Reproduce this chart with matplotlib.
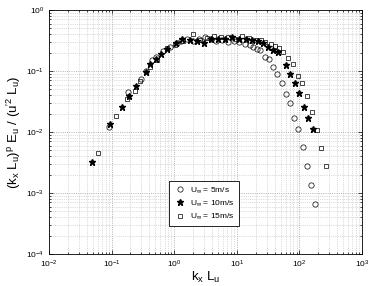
import matplotlib
matplotlib.use('Agg')
import matplotlib.pyplot as plt
import numpy as np

plt.rcParams['font.family'] = ['Liberation Sans', 'DejaVu Sans']
plt.rcParams['mathtext.fontset'] = 'custom'
plt.rcParams['mathtext.rm'] = 'Liberation Sans'
plt.rcParams['mathtext.it'] = 'Liberation Sans'

# U = 5 m/s
k5 = [0.092, 0.185, 0.295, 0.355, 0.438, 0.52, 0.66, 0.85, 1.11, 1.3, 1.6, 2.0, 2.5, 3.1, 3.8,
      4.7, 5.8, 7.2, 8.9, 11.0, 13.6, 16.3, 18.4, 20.8, 23.5, 28.2, 32.7, 38.3, 44.4, 52.1,
      61.1, 70.8, 83.0, 96.0, 112.0, 131.0, 153.0, 180.0]
e5 = [0.0119, 0.0448, 0.073, 0.10, 0.151, 0.17, 0.213, 0.247, 0.288, 0.31, 0.33, 0.31, 0.34,
      0.36, 0.33, 0.31, 0.32, 0.30, 0.31, 0.30, 0.28, 0.27, 0.25, 0.23, 0.221, 0.172, 0.156,
      0.118, 0.088, 0.063, 0.042, 0.0295, 0.0168, 0.0111, 0.0056, 0.00275, 0.00134, 0.00066]

# U = 10 m/s
k10 = [0.048, 0.094, 0.145, 0.192, 0.243, 0.351, 0.41, 0.506, 0.608, 0.767, 1.07, 1.33, 1.79,
       2.31, 2.99, 3.87, 5.0, 6.48, 8.38, 10.8, 14.0, 17.5, 21.8, 26.5, 31.9, 37.4, 45.0,
       61.1, 70.8, 85.1, 98.6, 118.0, 139.0, 167.0]
e10 = [0.0032, 0.0134, 0.0254, 0.039, 0.056, 0.096, 0.129, 0.157, 0.192, 0.23, 0.285, 0.33,
       0.32, 0.31, 0.29, 0.33, 0.34, 0.33, 0.36, 0.34, 0.33, 0.32, 0.31, 0.285, 0.25, 0.221,
       0.203, 0.125, 0.088, 0.064, 0.043, 0.026, 0.0168, 0.0112]

# U = 15 m/s
k15 = [0.0596, 0.117, 0.178, 0.234, 0.284, 0.41, 0.53, 0.776, 1.02, 1.38, 2.02, 2.58, 3.34,
       4.32, 5.6, 7.23, 9.36, 12.1, 15.7, 20.3, 24.4, 28.2, 34.8, 40.8, 47.2, 55.3, 66.5,
       78.2, 94.0, 111.0, 131.0, 157.0, 189.0, 221.0, 266.0]
e15 = [0.00456, 0.0183, 0.0344, 0.0475, 0.069, 0.116, 0.15, 0.236, 0.267, 0.31, 0.40, 0.32,
       0.35, 0.37, 0.36, 0.36, 0.335, 0.37, 0.35, 0.32, 0.32, 0.302, 0.277, 0.257, 0.241,
       0.207, 0.165, 0.129, 0.0838, 0.0629, 0.039, 0.0215, 0.0108, 0.00547, 0.00274]

fig = plt.figure(figsize=(3.71, 2.86), dpi=100)
ax = fig.add_axes([0.132, 0.112, 0.844, 0.853])

ax.loglog(k5, e5, 'o', mfc='none', mec='k', mew=0.5, ms=3.8, label=r'$\mathrm{U_{\infty}}$ = 5m/s')
ax.loglog(k10, e10, '*', mfc='k', mec='k', ms=5, label=r'$\mathrm{U_{\infty}}$ = 10m/s')
ax.loglog(k15, e15, 's', mfc='none', mec='k', mew=0.5, ms=3.2, label=r'$\mathrm{U_{\infty}}$ = 15m/s')

ax.set_xlim(1e-2, 1e3)
ax.set_ylim(1e-4, 1e0)
ax.grid(True, which='major', ls=':', color='#999999', lw=0.6)
ax.grid(True, which='minor', ls=':', color='#bbbbbb', lw=0.5)
ax.tick_params(which='both', direction='in', top=True, right=True, labelsize=6, width=0.5)
ax.tick_params(which='major', length=3)
ax.tick_params(which='minor', length=1.5)
for s in ax.spines.values():
    s.set_linewidth(0.6)

ax.set_xlabel(r'$\mathrm{k_x\ L_u}$', fontsize=9.5, labelpad=0)
ax.set_ylabel(r"$\mathrm{(k_x\ L_u)^p\ E_u\ /\ (u^{\prime 2}\ L_u)}$", fontsize=9.5, labelpad=2)

leg = ax.legend(loc='center', bbox_to_anchor=(0.495, 0.207), fontsize=6, numpoints=1,
                fancybox=False, framealpha=1, edgecolor='k', handletextpad=0.4,
                handlelength=1.6, borderpad=0.55, labelspacing=0.45)
leg.get_frame().set_linewidth(0.6)

fig.savefig('out.png', dpi=100)
